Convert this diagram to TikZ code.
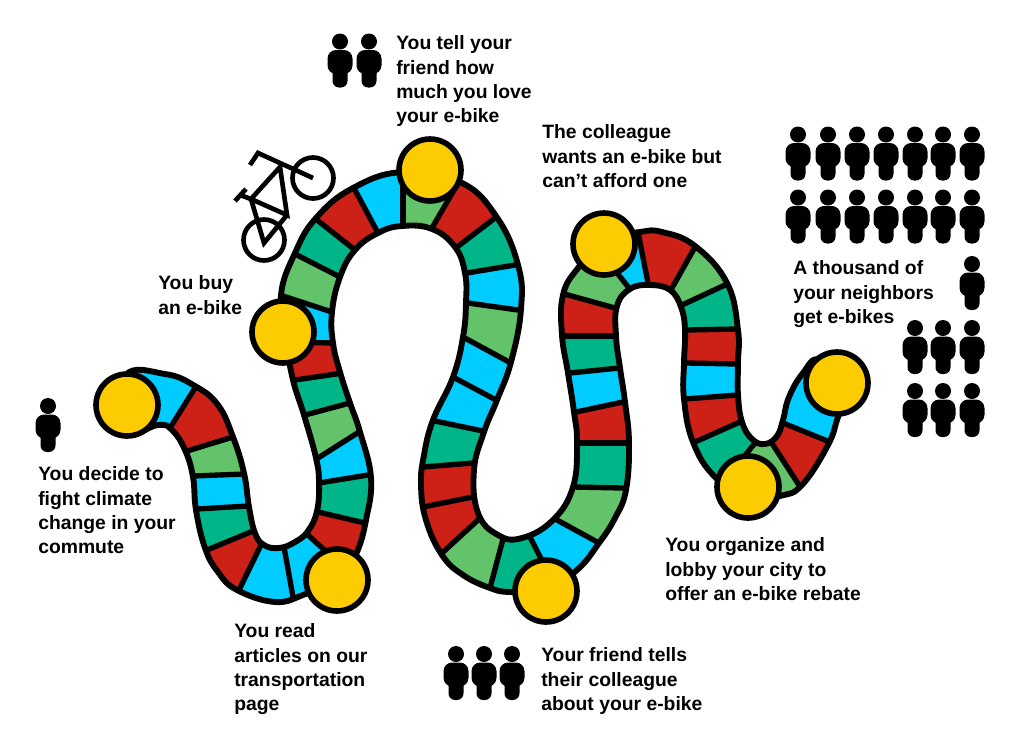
\documentclass[tikz,border=0pt]{standalone}
\usepackage{fontspec}
\setmainfont{Liberation Sans}
\usetikzlibrary{calc}

\definecolor{boardcyan}{RGB}{0,204,255}
\definecolor{boardred}{RGB}{205,33,24}
\definecolor{boardgreen}{RGB}{0,182,137}
\definecolor{boardlime}{RGB}{98,195,106}
\definecolor{boardgold}{RGB}{252,203,0}

\tikzset{
  token/.style={circle, draw, line width=4.2pt, fill=boardgold, minimum size=46.5pt, inner sep=0pt},
  caption/.style={align=left, anchor=north west, inner sep=0pt, font=\fontsize{14.5}{18.3}\selectfont\bfseries},
  divider/.style={line width=4pt},
  bikeline/.style={line width=3.5pt},
  person/.pic={
    \fill (0,0) circle (8);
    \fill[rounded corners=6.5pt] (-12.5,8.5) rectangle (12.5,32.5);
    \fill[rounded corners=5pt] (-7.5,20) rectangle (7.5,46);
  }
}

\def\snakeoutline{plot[smooth cycle, tension=0.72] coordinates {
  (125,376) (165,374) (195,386) (218,405) (233,437) (244,473) (249,507) (255,533) (264,545) (279,548)
  (295,542) (308,531) (317,511) (319,483) (316,458) (304,415) (293,380) (286,340) (281,295) (295,253)
  (316,218) (353,188) (403,172) (460,182) (496,216) (518,265) (521,309) (511,362) (497,400) (484,432)
  (474,470) (478,513) (498,535) (522,538) (553,520) (573,487) (577,443) (574,412) (568,373) (562,335)
  (563,295) (578,268) (605,240) (640,232) (662,232) (695,246) (727,283) (738,330) (738,363) (738,395)
  (742,422) (752,439) (765,444) (777,436) (783,420) (789,397) (803,373) (820,360)
  (848,390) (838,417) (828,445) (802,485) (780,496) (750,500) (715,477) (693,442) (684,399) (684,363)
  (685,330) (681,307) (670,290) (650,285) (630,289) (617,306) (616,336) (620,368) (625,402) (629,443)
  (626,490) (615,518) (599,543) (577,570) (545,590) (510,592) (490,588) (463,575) (442,555) (426,520) (421,485) (424,455)
  (433,420) (453,377) (463,337) (466,303) (465,273) (455,247) (432,229) (402,226) (378,233) (355,250)
  (340,277) (332,312) (333,343) (340,372) (350,403) (360,432) (371,478) (366,520) (357,552) (345,570)
  (323,585) (303,595) (275,602) (237,590) (218,572) (205,548) (196,510) (193,477) (185,450) (172,430) (158,425) (125,432)
}}

\begin{document}
\begin{tikzpicture}[x=0.75pt, y=-0.75pt]
  \useasboundingbox (0,0) rectangle (1024,754);

  % Define square borders
  \foreach \i/\ax/\ay/\bx/\by in {
    0/115/365/115/445, 1/195/388/170/428, 2/233/437/187/451, 3/244/474/194/476, 4/248/506/197/509,
    5/253/531/207/550, 6/260/547/239/590, 7/284/547/293/597, 8/308/535/345/569, 9/318/512/365/523,
    10/319/483/368/475, 11/318/458/359/432, 12/305/415/350/403, 13/295/380/343/373, 14/285/342/333/343,
    15/283/296/332/312, 16/297/255/340/277, 17/317/220/355/250, 18/355/190/378/233, 19/403/173/403/225,
    20/458/183/432/228, 21/495/218/457/247, 22/515/265/467/273, 23/518/310/468/303, 24/509/362/463/337,
    25/496/400/453/377, 26/483/431/435/421, 27/473/463/423/467, 28/473/497/423/507, 29/478/520/442/553,
    30/503/539/490/588, 31/530/537/558/592, 32/557/520/599/543, 33/573/487/623/488, 34/577/443/627/443,
    35/576/412/623/402, 36/570/373/619/368, 37/565/336/613/336, 38/568/295/615/308, 39/595/245/629/288,
    40/638/232/648/283, 41/695/247/672/288, 42/725/285/682/305, 43/737/329/687/330, 44/736/364/687/363,
    45/737/395/685/399, 46/740/422/695/442, 47/755/443/725/480, 48/773/445/806/496, 49/783/423/830/442,
    50/815/350/860/400} {
    \coordinate (a\i) at (\ax,\ay);
    \coordinate (b\i) at (\bx,\by);
    \coordinate (p\i) at ($(a\i)!-8pt!(b\i)$);
    \coordinate (q\i) at ($(b\i)!-8pt!(a\i)$);
  }

  % Colour the squares
  \begin{scope}
    \clip \snakeoutline;
    \foreach \i/\c in {
      0/boardcyan, 1/boardred, 2/boardlime, 3/boardcyan, 4/boardgreen, 5/boardred, 6/boardcyan, 7/boardcyan,
      8/boardred, 9/boardgreen, 10/boardcyan, 11/boardlime, 12/boardgreen, 13/boardred, 14/boardcyan,
      15/boardlime, 16/boardgreen, 17/boardred, 18/boardcyan, 19/boardlime, 20/boardred, 21/boardgreen,
      22/boardcyan, 23/boardlime, 24/boardcyan, 25/boardcyan, 26/boardgreen, 27/boardred, 28/boardred,
      29/boardlime, 30/boardgreen, 31/boardcyan, 32/boardlime, 33/boardgreen, 34/boardred, 35/boardcyan,
      36/boardgreen, 37/boardred, 38/boardlime, 39/boardcyan, 40/boardred, 41/boardlime, 42/boardgreen,
      43/boardred, 44/boardcyan, 45/boardred, 46/boardgreen, 47/boardlime, 48/boardred, 49/boardcyan} {
      \pgfmathtruncatemacro{\j}{\i+1}
      \fill[\c] (p\i) -- (p\j) -- (q\j) -- (q\i) -- cycle;
    }
    \foreach \i in {1,...,49} {
      \draw[divider] (p\i) -- (q\i);
    }
  \end{scope}
  \draw[line width=4.4pt] \snakeoutline;

  % Define tokens
  \node (decide) [token] at (127,405) {};
  \node (buy) [token] at (283,332) {};
  \node (read) [token] at (337,580) {};
  \node (tell) [token] at (430,170) {};
  \node (colleague) [token] at (604,244) {};
  \node (friend) [token] at (546,591) {};
  \node (organize) [token] at (748,487) {};
  \node (neighbors) [token] at (837,383) {};

  % Define captions
  \node (tellcap) [caption] at (396,35.5) {You tell your\\friend how\\much you love\\your e-bike};
  \node (colleaguecap) [caption] at (542,124.5) {The colleague\\wants an e-bike but\\can’t afford one};
  \node (neighborscap) [caption] at (793,260.5) {A thousand of\\your neighbors\\get e-bikes};
  \node (buycap) [caption] at (158,275.5) {You buy\\an e-bike};
  \node (decidecap) [caption] at (38,466.5) {You decide to\\fight climate\\change in your\\commute};
  \node (readcap) [caption] at (234,623.5) {You read\\articles on our\\transportation\\page};
  \node (organizecap) [caption] at (665,537.5) {You organize and\\lobby your city to\\offer an e-bike rebate};
  \node (friendcap) [caption] at (541,647.5) {Your friend tells\\their colleague\\about your e-bike};

  % Draw people
  \pic at (48,406) {person};
  \foreach \x in {340,369} \pic at (\x,41.5) {person};
  \foreach \x in {456,484,512} \pic at (\x,654) {person};
  \foreach \x in {798,828,857,886,915,943,972} {
    \pic at (\x,134.5) {person};
    \pic at (\x,197.5) {person};
  }
  \pic at (972,264) {person};
  \foreach \x in {915,943,972} {
    \pic at (\x,328) {person};
    \pic at (\x,391) {person};
  }

  % Draw bike
  \draw[bikeline] (313,178) circle (20.5);
  \draw[bikeline] (264,240) circle (20.5);
  \coordinate (handle) at (258,153);
  \coordinate (hub) at (313,178);
  \coordinate (head) at (280,167);
  \coordinate (seat) at (251,199);
  \coordinate (crank) at (287,215);
  \coordinate (axle) at (264,243);
  \draw[bikeline] (250,165) -- (handle) -- (hub);
  \draw[bikeline] (head) -- (seat) -- (crank) -- cycle;
  \draw[bikeline] (seat) -- (axle) -- (crank);
  \draw[bikeline] (235,201) -- (246,189);
  \draw[bikeline] (240,195) -- (seat);
\end{tikzpicture}
\end{document}
